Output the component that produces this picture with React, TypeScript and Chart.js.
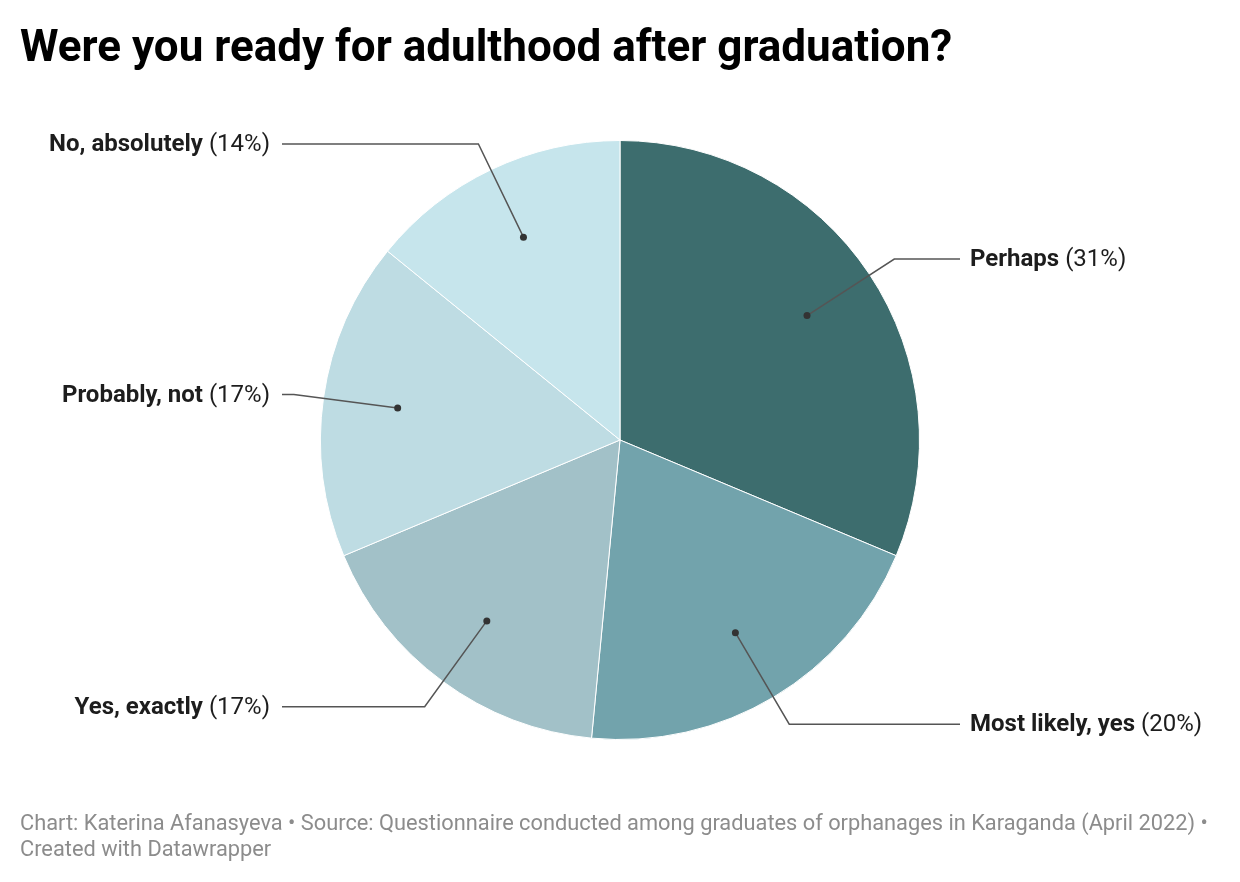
import React, { useEffect, useRef } from "react";
import { Chart, registerables } from "chart.js";

Chart.register(...registerables);

const categories = ["Perhaps", "Most likely, yes", "Yes, exactly", "Probably, not", "No, absolutely"];
const values = [31, 20, 17, 17, 14];
const percentLabels = ["(31%)", "(20%)", "(17%)", "(17%)", "(14%)"];
const colors = ["#3d6d6e", "#72a3ac", "#a2c1c8", "#bedce3", "#c6e5ec"];

const titleText = "Were you ready for adulthood after graduation?";
const footerLine1 = "Chart: Katerina Afanasyeva \u2022 Source: Questionnaire conducted among graduates of orphanages in Karaganda (April 2022) \u2022";
const footerLine2 = "Created with Datawrapper";

const FONT = "Roboto, 'Noto Sans', sans-serif";

const labelPlugin = {
  id: "leaderLabels",
  afterDraw(chart: any) {
    const ctx = chart.ctx as CanvasRenderingContext2D;
    const meta = chart.getDatasetMeta(0);
    ctx.save();
    // title
    ctx.fillStyle = "#000";
    ctx.font = `bold 44px ${FONT}`;
    ctx.textAlign = "left";
    ctx.textBaseline = "alphabetic";
    ctx.fillText(titleText, 20, 61);
    // footer
    ctx.fillStyle = "#8c8c8c";
    ctx.font = `21.8px ${FONT}`;
    ctx.fillText(footerLine1, 20, 830);
    ctx.fillText(footerLine2, 20, 856);

    meta.data.forEach((arc: any, i: number) => {
      const p = arc.getProps(["x", "y", "startAngle", "endAngle", "outerRadius"], true);
      const mid = (p.startAngle + p.endAngle) / 2;
      const r = p.outerRadius;
      const dx = p.x + Math.cos(mid) * r * 0.75;
      const dy = p.y + Math.sin(mid) * r * 0.75;
      const ex = p.x + Math.cos(mid) * r * 1.1;
      const ey = p.y + Math.sin(mid) * r * 1.1 + 1.5;
      const right = Math.cos(mid) >= 0;
      const hx = right ? p.x + 340 : p.x - 338;
      ctx.strokeStyle = "#555";
      ctx.lineWidth = 1.5;
      ctx.beginPath();
      ctx.moveTo(dx, dy);
      ctx.lineTo(ex, ey);
      ctx.lineTo(hx, ey);
      ctx.stroke();
      ctx.fillStyle = "#333";
      ctx.beginPath();
      ctx.arc(dx, dy, 3.5, 0, Math.PI * 2);
      ctx.fill();

      const ty = ey + 1;
      ctx.textBaseline = "middle";
      ctx.fillStyle = "#1d1d1d";
      const boldFont = `bold 24px ${FONT}`;
      const regFont = `24px ${FONT}`;
      const name = categories[i];
      const pct = " " + percentLabels[i];
      if (right) {
        const tx = hx + 10;
        ctx.textAlign = "left";
        ctx.font = boldFont;
        ctx.fillText(name, tx, ty);
        const w = ctx.measureText(name).width;
        ctx.font = regFont;
        ctx.fillText(pct, tx + w, ty);
      } else {
        const tx = hx - 12;
        ctx.textAlign = "right";
        ctx.font = regFont;
        ctx.fillText(pct, tx, ty);
        const w = ctx.measureText(pct).width;
        ctx.font = boldFont;
        ctx.fillText(name, tx - w, ty);
      }
    });
    ctx.restore();
  },
};

export default function App() {
  const ref = useRef<HTMLCanvasElement | null>(null);
  useEffect(() => {
    if (!ref.current) return;
    const chart = new Chart(ref.current, {
      type: "pie",
      data: {
        labels: categories,
        datasets: [
          {
            data: values,
            backgroundColor: colors,
            borderColor: "#ffffff",
            borderWidth: 1,
          },
        ],
      },
      options: {
        responsive: false,
        animation: false,
        layout: { padding: { top: 140, bottom: 142, left: 0, right: 0 } },
        plugins: {
          legend: { display: false },
          tooltip: { enabled: false },
          title: { display: false },
        },
      },
      plugins: [labelPlugin],
    });
    return () => chart.destroy();
  }, []);
  return (
    <div style={{ position: "fixed", left: 0, top: 0, width: 1240, height: 882, background: "#fff" }}>
      <canvas ref={ref} width={1240} height={882} style={{ width: 1240, height: 882, display: "block" }} />
    </div>
  );
}
